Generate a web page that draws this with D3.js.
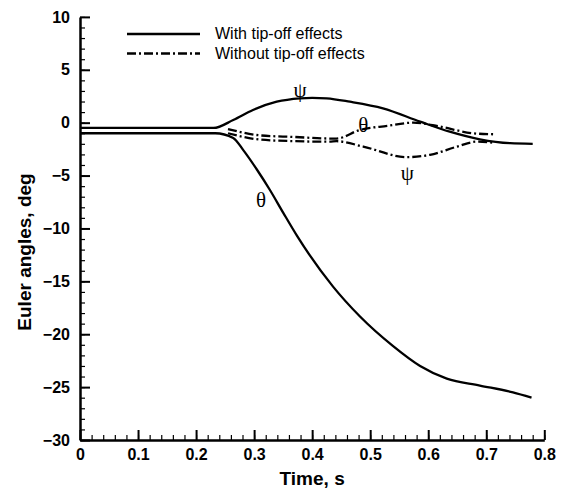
<!DOCTYPE html>
<html>
<head>
<meta charset="utf-8">
<script src="https://cdn.jsdelivr.net/npm/d3@7"></script>
<style>
    body { margin: 0; background: #fff; }
    svg { display: block; font-family: "Liberation Sans", Arial, sans-serif; }
    .axis text { font-size: 16px; font-weight: bold; fill: #000; }
    .axis .domain { stroke: #000; stroke-width: 2.5; }
    .axis .tick line { stroke: #000; stroke-width: 2; }
    .minor .tick line { stroke-width: 1.2; }
    .curve { fill: none; stroke: #000; stroke-width: 2.3; stroke-linejoin: round; }
    .dashdot { stroke-dasharray: 9,3,2,3; }
</style>
</head>
<body>
<svg id="chart" width="561" height="488"></svg>
<script>
// time (s) and Euler angles (deg)
var psiWithT = [0, 0.23, 0.264, 0.298, 0.339, 0.379, 0.40, 0.425, 0.465, 0.522, 0.586, 0.637, 0.689, 0.741, 0.78];
var psiWith = [-0.5, -0.5, 0.25, 1.2, 1.98, 2.3, 2.35, 2.3, 1.98, 1.36, 0.1, -0.85, -1.57, -1.94, -2.0];

var thetaWithT = [0, 0.233, 0.264, 0.281, 0.305, 0.327, 0.35, 0.374, 0.436, 0.482, 0.539, 0.586, 0.632, 0.689, 0.746, 0.778];
var thetaWith = [-1.0, -1.0, -1.44, -2.57, -4.45, -6.34, -8.5, -10.7, -15.5, -18.3, -21.1, -23.0, -24.2, -24.85, -25.5, -26.0];

var thetaNoT = [0.255, 0.31, 0.37, 0.43, 0.442, 0.482, 0.53, 0.574, 0.62, 0.677, 0.715];
var thetaNo = [-0.6, -1.2, -1.35, -1.5, -1.5, -0.69, -0.3, 0.0, -0.37, -1.0, -1.1];

var psiNoT = [0.255, 0.31, 0.37, 0.43, 0.442, 0.488, 0.563, 0.603, 0.65, 0.684, 0.712];
var psiNo = [-1.0, -1.6, -1.75, -1.8, -1.75, -2.26, -3.26, -3.04, -2.26, -1.79, -1.9];

var xTicks = [0, 0.1, 0.2, 0.3, 0.4, 0.5, 0.6, 0.7, 0.8];
var yTicks = [-30, -25, -20, -15, -10, -5, 0, 5, 10];
var legendLabels = ["With tip-off effects", "Without tip-off effects"];

var svg = d3.select("#chart");
var margin = { top: 16.9, left: 80 },
    width = 464.3,
    height = 423.1;

var x = d3.scaleLinear().domain([0, 0.8]).range([0, width]),
    y = d3.scaleLinear().domain([-30, 10]).range([height, 0]);

var g = svg.append("g")
    .attr("transform", "translate(" + margin.left + "," + margin.top + ")");

// minor ticks
g.append("g")
    .attr("class", "axis minor")
    .attr("transform", "translate(0," + height + ")")
    .call(d3.axisBottom(x).tickValues(d3.range(0, 0.8001, 0.02)).tickSize(-5).tickFormat(""))
    .call(function(s) { s.select(".domain").remove(); });
g.append("g")
    .attr("class", "axis minor")
    .call(d3.axisLeft(y).tickValues(d3.range(-30, 10.001, 1)).tickSize(-5).tickFormat(""))
    .call(function(s) { s.select(".domain").remove(); });

// major axes
g.append("g")
    .attr("class", "axis axis--x")
    .attr("transform", "translate(0," + height + ")")
    .call(d3.axisBottom(x).tickValues(xTicks).tickSizeInner(-10).tickSizeOuter(0).tickPadding(9)
        .tickFormat(function(d) { return d === 0 ? "0" : d3.format(".1f")(d); }));

g.append("g")
    .attr("class", "axis axis--y")
    .call(d3.axisLeft(y).tickValues(yTicks).tickSizeInner(-10).tickSizeOuter(0).tickPadding(10));

// axis titles
svg.append("text")
    .attr("x", margin.left + width / 2)
    .attr("y", 485)
    .attr("text-anchor", "middle")
    .style("font-size", "19px")
    .style("font-weight", "bold")
    .text("Time, s");

svg.append("text")
    .attr("transform", "translate(31,252) rotate(-90)")
    .attr("text-anchor", "middle")
    .style("font-size", "19px")
    .style("font-weight", "bold")
    .text("Euler angles, deg");

// curves
function makeLine(ts) {
    return d3.line()
        .x(function(d, i) { return x(ts[i]); })
        .y(function(d) { return y(d); })
        .curve(d3.curveMonotoneX);
}

g.append("path").attr("class", "curve dashdot").attr("d", makeLine(thetaNoT)(thetaNo));
g.append("path").attr("class", "curve dashdot").attr("d", makeLine(psiNoT)(psiNo));
g.append("path").attr("class", "curve").attr("d", makeLine(psiWithT)(psiWith));
g.append("path").attr("class", "curve").attr("d", makeLine(thetaWithT)(thetaWith));

// curve labels
var symbols = [
    { s: "\u03C8", t: 0.379, v: 3.1 },
    { s: "\u03B8", t: 0.312, v: -7.3 },
    { s: "\u03B8", t: 0.488, v: -0.2 },
    { s: "\u03C8", t: 0.564, v: -4.7 }
];
g.selectAll(".sym")
    .data(symbols)
    .enter().append("text")
    .attr("class", "sym")
    .attr("x", function(d) { return x(d.t); })
    .attr("y", function(d) { return y(d.v); })
    .attr("text-anchor", "middle")
    .attr("dy", "0.35em")
    .style("font-family", "'Liberation Serif', 'Times New Roman', serif")
    .style("font-size", "21px")
    .text(function(d) { return d.s; });

// legend
var legend = svg.append("g");
legendLabels.forEach(function(label, i) {
    var ly = 34 + i * 19.5;
    legend.append("line")
        .attr("class", "curve" + (i === 1 ? " dashdot" : ""))
        .attr("x1", 127).attr("x2", 200)
        .attr("y1", ly).attr("y2", ly);
    legend.append("text")
        .attr("x", 215)
        .attr("y", ly + 5)
        .style("font-size", "16px")
        .text(label);
});
</script>
</body>
</html>
